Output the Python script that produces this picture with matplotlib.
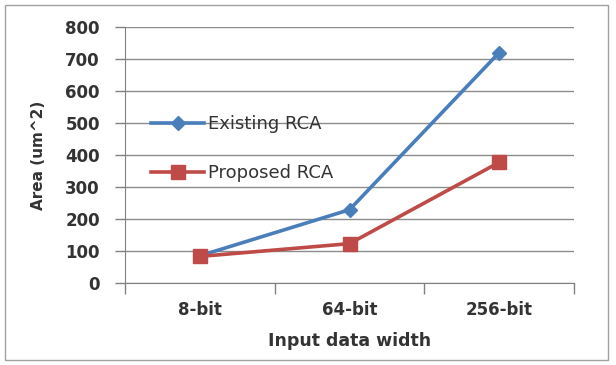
import matplotlib.pyplot as plt
from matplotlib.patches import Rectangle

categories = ["8-bit", "64-bit", "256-bit"]
existing = [85, 229, 720]
proposed = [83, 123, 377]
yticks = [0, 100, 200, 300, 400, 500, 600, 700, 800]

plt.rcParams['font.family'] = ['DejaVu Sans']

fig = plt.figure(figsize=(6.16, 3.65), dpi=100)
ax = fig.add_axes([125/616, 1-283/365, (574-125)/616, (283-27)/365])

x = list(range(len(categories)))
ax.plot(x, existing, color='#4A7EBB', lw=2.6, marker='D', ms=7,
        label='Existing RCA', zorder=3)
ax.plot(x, proposed, color='#BE4B48', lw=2.6, marker='s', ms=10,
        label='Proposed RCA', zorder=4)

ax.set_xlim(-0.5, 2.5)
ax.set_ylim(0, 800)
ax.set_yticks(yticks)
ax.set_xticks(x)
ax.set_xticklabels(categories, fontsize=12, fontweight='bold', color='#333333')
ax.set_xticks([-0.5, 0.5, 1.5, 2.5], minor=True)
ax.tick_params(axis='x', which='major', length=0, pad=13)
ax.tick_params(axis='x', which='minor', length=8, color='#808080', width=1)
ax.tick_params(axis='y', length=7, color='#808080', width=1, pad=11,
               labelsize=12, labelcolor='#333333')
for lbl in ax.get_yticklabels():
    lbl.set_fontweight('bold')

ax.grid(axis='y', color='#8c8c8c', lw=1)
ax.set_axisbelow(True)
for s in ['top', 'right']:
    ax.spines[s].set_visible(False)
for s in ['left', 'bottom']:
    ax.spines[s].set_color('#808080')

ax.set_xlabel('Input data width', fontsize=12.5, fontweight='bold', color='#333333', labelpad=9)
ax.set_ylabel('Area (um^2)', fontsize=11, fontweight='bold', color='#333333', labelpad=14)

leg = ax.legend(loc='upper left', bbox_to_anchor=(0.058, 0.655), frameon=False,
                fontsize=13, handlelength=2.95, handletextpad=0.22, labelspacing=1.72,
                borderpad=0, borderaxespad=0)
for t in leg.get_texts():
    t.set_color('#333333')

fig.patches.append(Rectangle((5/616, 5/365), 603/616, 355/365, transform=fig.transFigure,
                             fill=False, edgecolor='#a0a0a0', lw=1))

fig.savefig('out.png', dpi=100)
